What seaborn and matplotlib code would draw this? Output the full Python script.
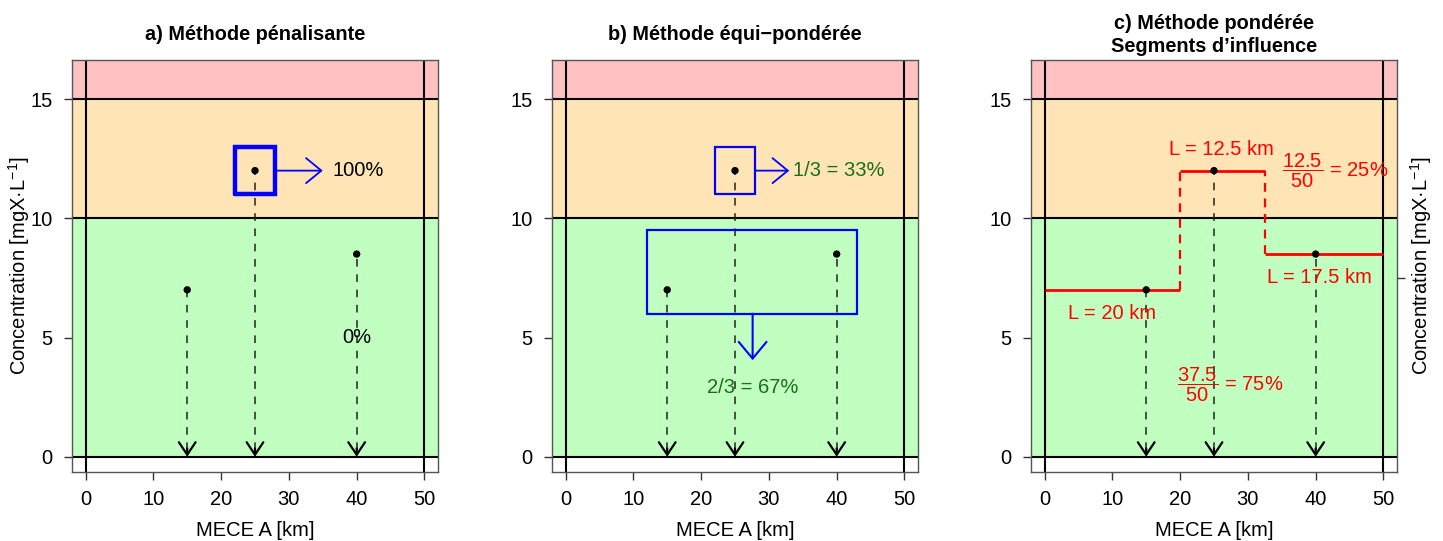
import matplotlib
matplotlib.use("Agg")
import matplotlib.pyplot as plt
import seaborn as sns
import pandas as pd

sns.set_style("ticks")
plt.rcParams['font.family'] = ['Liberation Sans', 'DejaVu Sans']
plt.rcParams['mathtext.fontset'] = 'custom'
plt.rcParams['mathtext.rm'] = 'Liberation Sans'
plt.rcParams['mathtext.it'] = 'Liberation Sans:italic'
plt.rcParams['mathtext.bf'] = 'Liberation Sans:bold'
plt.rcParams['text.color'] = 'black'
plt.rcParams['axes.labelcolor'] = 'black'
plt.rcParams['xtick.color'] = 'black'
plt.rcParams['ytick.color'] = 'black'

# ---- data ----
station_km = [15, 25, 40]
concentration = [7, 12, 8.5]
class_bounds = [0, 10, 15, 16.64]
class_colors = ["#C1FFC1", "#FFE4B5", "#FFC1C1"]
river_start, river_end = 0, 50
titles = ["a) Méthode pénalisante", "b) Méthode équi\u2212pondérée",
          "c) Méthode pondérée\nSegments d\u2019influence"]
xticks = [0, 10, 20, 30, 40, 50]
yticks = [0, 5, 10, 15]
xlabel = "MECE A [km]"
ylabel = "Concentration [mgX\u00b7L$^{-1}$]"

# panel a
box_a = (22, 28, 11, 13)
arrow_a = (28, 35)
text_a = ["100%", "0%"]
# panel b
box_b1 = (22, 28, 11, 13)
box_b2 = (12, 43, 6, 9.5)
arrow_b1 = (28, 33)
arrow_b2_x, arrow_b2_y = 27.6, (6, 4.05)
text_b = ["1/3 = 33%", "2/3 = 67%"]
# panel c
seg_x0 = [0, 20, 32.5]
seg_x1 = [20, 32.5, 50]
seg_y = [7, 12, 8.5]
seg_labels = ["L = 20 km", "L = 12.5 km", "L = 17.5 km"]
frac_texts = [r"$\dfrac{12.5}{50}$ = 25%", r"$\dfrac{37.5}{50}$ = 75%"]

fig = plt.figure(figsize=(14.43, 5.41), dpi=100)
W, H = 1443, 541
lefts = [72, 552, 1031]
ax_w, ax_top, ax_bot = 366, 60, 472
axes = [fig.add_axes([l / W, (H - ax_bot) / H, ax_w / W, (ax_bot - ax_top) / H]) for l in lefts]

df = pd.DataFrame({"km": station_km, "conc": concentration})

def box(ax, b, lw, color="blue"):
    x0, x1, y0, y1 = b
    ax.plot([x0, x1, x1, x0, x0], [y0, y0, y1, y1, y0], color=color, lw=lw,
            solid_joinstyle="miter", zorder=5)

def arrow(ax, start, end, color, hl, hw, lw):
    ax.annotate("", xy=end, xytext=start,
                arrowprops=dict(arrowstyle=f"->,head_length={hl},head_width={hw}",
                                color=color, lw=lw, shrinkA=0, shrinkB=0,
                                mutation_scale=10), zorder=6)

for i, ax in enumerate(axes):
    ax.set_xlim(-2, 52)
    ax.set_ylim(-0.64, 16.64)
    for lo, hi, c in zip(class_bounds[:-1], class_bounds[1:], class_colors):
        ax.axhspan(lo, hi, color=c, lw=0, zorder=0)
    for yb in class_bounds[:-1]:
        ax.axhline(yb, color="black", lw=1.5, zorder=2)
    ax.axvline(river_start, color="black", lw=1.5, zorder=2)
    ax.axvline(river_end, color="black", lw=1.5, zorder=2)

    # dashed drop lines + arrowheads
    ax.vlines(station_km, 0.3, concentration, colors="#222222", lw=1.1,
              linestyles=(0, (5, 5)), zorder=3)
    for xk in station_km:
        arrow(ax, (xk, 0.35), (xk, 0), "black", 0.9, 0.6, 1.6)
    sns.scatterplot(data=df, x="km", y="conc", ax=ax, color="black", s=28,
                    edgecolor="none", zorder=7, legend=False)

    ax.set_xticks(xticks)
    ax.set_yticks(yticks)
    ax.tick_params(axis="both", labelsize=14.5, length=6, width=1, color="#333333",
                   direction="out")
    ax.tick_params(axis="x", pad=7)
    ax.tick_params(axis="y", pad=8)
    for s in ax.spines.values():
        s.set_color("#555555")
        s.set_linewidth(1)
    ax.set_xlabel(xlabel, fontsize=14.5, va="center")
    ax.xaxis.set_label_coords(0.5, -(530 - ax_bot) / (ax_bot - ax_top))
    ax.set_ylabel("")
    ax.text(0.5, 1 + 25 / (ax_bot - ax_top), titles[i], transform=ax.transAxes,
            ha="center", va="center", fontsize=14.3, fontweight="bold", linespacing=1.3)

ax = axes[0]
ax.set_ylabel(ylabel, fontsize=14.5, va="center")
ax.yaxis.set_label_coords((19 - 72) / ax_w, 0.5)
box(ax, box_a, 3.2)
arrow(ax, (arrow_a[0], 12), (arrow_a[1], 12), "blue", 1.1, 0.9, 1.3)
ax.text(36.4, 12, text_a[0], fontsize=14.5, ha="left", va="center", zorder=8)
ax.text(40, 5, text_a[1], fontsize=14.5, ha="center", va="center", zorder=8)

ax = axes[1]
box(ax, box_b1, 1.6)
box(ax, box_b2, 1.6)
arrow(ax, (arrow_b1[0], 12), (arrow_b1[1], 12), "blue", 1.1, 0.9, 1.3)
arrow(ax, (arrow_b2_x, arrow_b2_y[0]), (arrow_b2_x, arrow_b2_y[1]), "blue", 1.2, 1.0, 1.5)
ax.text(33.5, 12, text_b[0], fontsize=14.5, color="#1a6e1a", ha="left", va="center", zorder=8)
ax.text(27.6, 2.9, text_b[1], fontsize=14.5, color="#1a6e1a", ha="center", va="center", zorder=8)

ax = axes[2]
ax.hlines(seg_y, seg_x0, seg_x1, colors="red", lw=2.0, zorder=4)
ax.vlines(seg_x1[:-1], [min(a, b) for a, b in zip(seg_y[:-1], seg_y[1:])],
          [max(a, b) for a, b in zip(seg_y[:-1], seg_y[1:])],
          colors="red", lw=1.6, linestyles=(0, (4, 3)), zorder=4)
ax.text(9.9, 6.0, seg_labels[0], color="red", fontsize=14.5, ha="center", va="center", zorder=8)
ax.text(26.1, 12.9, seg_labels[1], color="red", fontsize=14.5, ha="center", va="center", zorder=8)
ax.text(40.6, 7.5, seg_labels[2], color="red", fontsize=14.5, ha="center", va="center", zorder=8)
ax.text(35.1, 12.0, frac_texts[0], color="red", fontsize=14.5, ha="left", va="center", zorder=8)
ax.text(19.6, 3.0, frac_texts[1], color="red", fontsize=14.5, ha="left", va="center", zorder=8)
ax.yaxis.set_label_position("right")
ax.set_ylabel(ylabel, fontsize=14.5, va="center", rotation=90)
ax.yaxis.set_label_coords((1421 - 1031) / ax_w, 0.5)
ax2 = ax.twinx()
ax2.set_ylim(ax.get_ylim())
ax2.set_yticks([7.5], labels=[""])
ax2.tick_params(axis="y", length=6, width=1, color="#333333", pad=0)
for s in ax2.spines.values():
    s.set_visible(False)

fig.savefig("out.png", dpi=100)
